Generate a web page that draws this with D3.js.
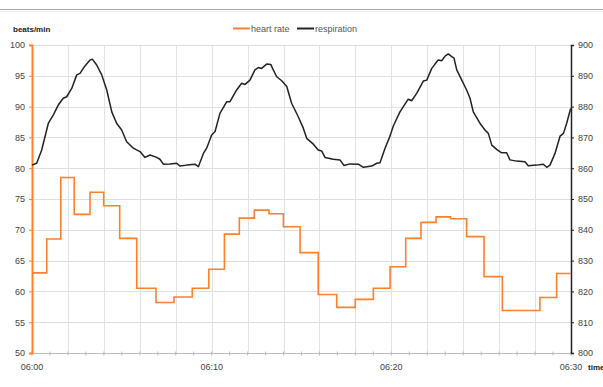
<!DOCTYPE html>
<html><head><meta charset="utf-8">
<script src="https://cdn.jsdelivr.net/npm/d3@7"></script>
<style>body{margin:0;background:#fff}svg{display:block}text{font-family:"Liberation Sans",Arial,sans-serif}</style>
</head><body><svg id="c" width="603" height="387"></svg>
<script>
// heart rate: step start (minutes after 06:00) and value (beats/min)
const hrMinutes = [0,0.82,1.60,2.35,3.23,3.99,4.88,5.83,6.90,7.90,8.92,9.84,10.71,11.54,12.37,13.19,13.99,14.92,15.93,16.96,17.99,19.00,19.93,20.80,21.65,22.49,23.30,24.19,25.16,26.18,28.27,29.20,30];
const hrValues  = [63,68.5,78.5,72.5,76.1,73.9,68.6,60.5,58.2,59.1,60.5,63.6,69.3,71.9,73.2,72.6,70.5,66.3,59.5,57.4,58.7,60.5,64.0,68.6,71.2,72.1,71.8,68.9,62.4,56.9,59.0,62.9,62.9];
// respiration (right axis)
const respMinutes = [0,0.26,0.54,0.91,1.19,1.46,1.74,1.93,2.21,2.49,2.67,2.95,3.23,3.36,3.60,3.88,4.16,4.44,4.71,4.99,5.27,5.64,6.01,6.29,6.57,6.94,7.12,7.31,7.68,8.05,8.24,8.61,9.07,9.26,9.54,9.72,10.00,10.19,10.46,10.84,11.02,11.39,11.67,11.86,12.13,12.41,12.60,12.78,13.06,13.29,13.43,13.62,13.90,14.18,14.45,14.82,15.10,15.29,15.66,15.93,16.12,16.31,16.77,17.14,17.37,17.70,18.16,18.44,18.91,19.19,19.37,19.65,19.93,20.11,20.48,20.67,20.94,21.13,21.41,21.78,21.97,22.25,22.43,22.61,22.80,22.99,23.17,23.36,23.49,23.64,23.92,24.19,24.38,24.56,24.93,25.21,25.40,25.59,25.86,26.14,26.42,26.60,26.98,27.44,27.62,28.09,28.46,28.65,28.83,29.11,29.39,29.58,29.76,29.98];
const respValues  = [861.0,861.6,865.9,874.6,877.3,880.5,882.7,883.2,885.9,890.3,890.8,893.2,895.1,895.4,893.5,890.3,885.4,878.3,874.6,872.4,868.6,866.5,865.4,863.5,864.3,863.5,862.9,861.3,861.4,861.6,860.7,861.0,861.3,860.5,864.8,866.5,870.8,871.9,877.8,881.6,881.6,885.4,887.6,887.2,888.6,891.9,892.7,892.4,893.8,893.7,891.9,889.7,888.4,886.5,881.1,876.7,873.0,869.7,867.8,865.9,865.6,863.5,862.9,862.7,860.9,861.4,861.3,860.3,860.7,861.6,861.8,866.5,870.5,873.7,878.3,880.0,882.4,881.9,884.3,888.3,888.6,892.4,893.8,895.1,894.9,896.4,897.1,896.2,895.7,891.9,888.6,885.4,882.7,878.3,874.6,872.4,871.3,867.5,866.1,865.0,865.0,862.7,862.3,862.1,860.8,861.0,861.3,860.3,861.0,864.8,870.4,871.3,874.6,879.4];
const leftTicks = [50,55,60,65,70,75,80,85,90,95,100];
const rightTicks = [800,810,820,830,840,850,860,870,880,890,900];
const timeLabelMinutes = [0,10,20,30];
const gridMinutes = d3.range(0,31,2);
const minorMinutes = d3.range(0,31,1);
const seriesNames = ["heart rate","respiration"];
const leftTitle = "beats/min", timeTitle = "time";

const ORANGE = "#ff7f2a", BLACK = "#222";
const svg = d3.select("#c");
const L = 32, R = 571, T = 45, B = 353;
const base = new Date(2000,0,1,6,0,0);
const toDate = m => new Date(base.getTime() + m*60000);
const x = d3.scaleTime().domain([toDate(0), toDate(30)]).range([L, R]);
const yL = d3.scaleLinear().domain([50,100]).range([B, T]);
const yR = d3.scaleLinear().domain([800,900]).range([B, T]);

// top rule
svg.append("line").attr("x1",0).attr("x2",603).attr("y1",9.5).attr("y2",9.5).attr("stroke","#a8a8a8");
svg.append("line").attr("x1",0).attr("x2",603).attr("y1",11.5).attr("y2",11.5).attr("stroke","#eee");

// grid
const g = svg.append("g");
g.selectAll(".h").data(leftTicks).join("line")
  .attr("x1",L).attr("x2",R).attr("y1",d=>Math.round(yL(d))+0.5).attr("y2",d=>Math.round(yL(d))+0.5)
  .attr("stroke","#dedede");
g.selectAll(".v").data(gridMinutes).join("line")
  .attr("x1",d=>Math.round(x(toDate(d)))+0.5).attr("x2",d=>Math.round(x(toDate(d)))+0.5).attr("y1",T).attr("y2",B)
  .attr("stroke","#e2e2e2");

// bottom axis
svg.append("line").attr("x1",L).attr("x2",R).attr("y1",B+0.5).attr("y2",B+0.5).attr("stroke","#bbb");
svg.selectAll(".mt").data(minorMinutes).join("line")
  .attr("x1",d=>x(toDate(d))).attr("x2",d=>x(toDate(d))).attr("y1",B-1.5).attr("y2",B+2.5).attr("stroke","#bbb");
const fmt = d3.timeFormat("%H:%M");
svg.selectAll(".tl").data(timeLabelMinutes).join("text")
  .attr("x",d=>x(toDate(d))).attr("y",370).attr("text-anchor","middle")
  .attr("font-size",9).attr("fill","#444").text(d=>fmt(toDate(d)));
svg.append("text").attr("x",588).attr("y",370).attr("font-size",8).attr("font-weight","bold").attr("fill","#222").text(timeTitle);

// left axis
const ga = svg.append("g").attr("transform",`translate(${L},0)`).call(d3.axisLeft(yL).tickValues(leftTicks).tickSize(3).tickPadding(4));
ga.select(".domain").attr("stroke",ORANGE).attr("stroke-width",2);
ga.selectAll(".tick line").attr("stroke",ORANGE);
ga.selectAll(".tick text").attr("font-size",9).attr("fill","#444").attr("font-family","Liberation Sans, Arial");
svg.append("text").attr("x",13).attr("y",32).attr("font-size",8).attr("font-weight","bold").attr("fill","#222").text(leftTitle);

// right axis
const gr = svg.append("g").attr("transform",`translate(${R},0)`).call(d3.axisRight(yR).tickValues(rightTicks).tickSize(3).tickPadding(4));
gr.select(".domain").attr("stroke",BLACK).attr("stroke-width",1.5);
gr.selectAll(".tick line").attr("stroke",BLACK);
gr.selectAll(".tick text").attr("font-size",9).attr("fill","#444").attr("font-family","Liberation Sans, Arial");

// lines
const hr = hrMinutes.map((m,i)=>({t:toDate(m),v:hrValues[i]}));
svg.append("path").datum(hr).attr("fill","none").attr("stroke",ORANGE).attr("stroke-width",1.6)
  .attr("d", d3.line().x(d=>x(d.t)).y(d=>yL(d.v)).curve(d3.curveStepAfter));
const rp = respMinutes.map((m,i)=>({t:toDate(m),v:respValues[i]}));
svg.append("path").datum(rp).attr("fill","none").attr("stroke",BLACK).attr("stroke-width",1.5).attr("stroke-linejoin","round")
  .attr("d", d3.line().x(d=>x(d.t)).y(d=>yR(d.v)));

// legend
const leg = [{n:seriesNames[0],c:ORANGE,x:233},{n:seriesNames[1],c:BLACK,x:297}];
leg.forEach(l=>{
  svg.append("line").attr("x1",l.x).attr("x2",l.x+17).attr("y1",28.5).attr("y2",28.5).attr("stroke",l.c).attr("stroke-width",2);
  svg.append("text").attr("x",l.x+18).attr("y",32).attr("font-size",9).attr("fill","#555").text(l.n);
});
</script></body></html>
